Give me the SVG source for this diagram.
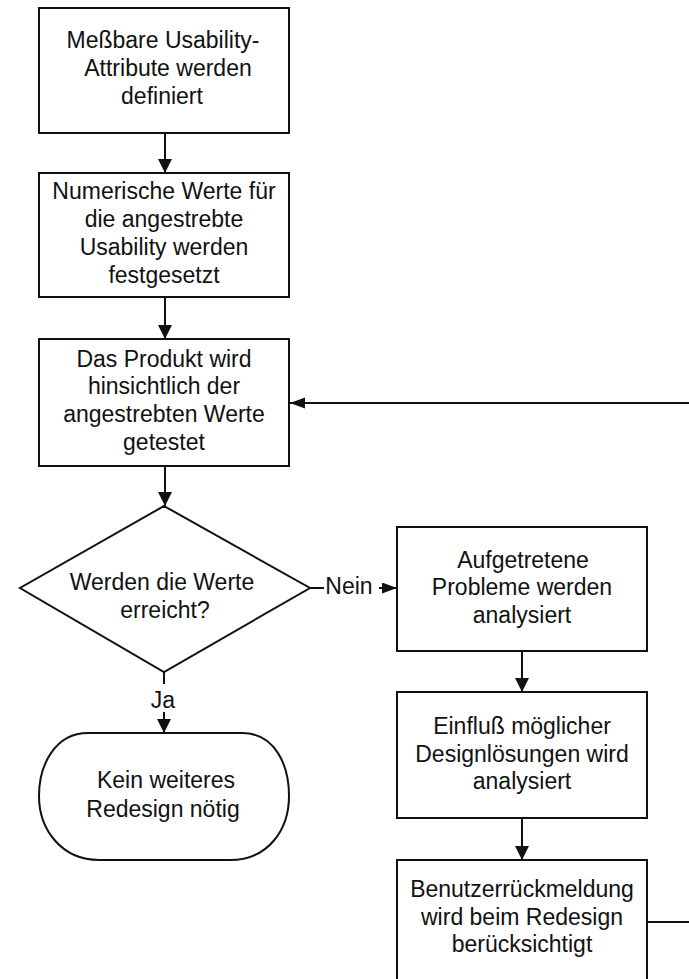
<svg xmlns="http://www.w3.org/2000/svg" width="689" height="979" viewBox="0 0 689 979">
<style>
.shape{fill:#fff;stroke:#111;stroke-width:2}
.conn{fill:none;stroke:#111;stroke-width:2}
text{font-family:"Liberation Sans",Arial,sans-serif;font-size:23px;fill:#111;text-anchor:middle}
</style>
<defs>
<marker id="ah" markerUnits="userSpaceOnUse" markerWidth="15" markerHeight="15" refX="14" refY="7" orient="auto">
<path d="M0,0 L14,7 L0,14 z" fill="#111"/>
</marker>
<marker id="ahs" markerUnits="userSpaceOnUse" markerWidth="16" markerHeight="12" refX="15" refY="5.5" orient="auto">
<path d="M0,0 L15,5.5 L0,11 z" fill="#111"/>
</marker>
</defs>
<rect width="689" height="979" fill="#fff"/>
<g id="connectors">
<line class="conn" x1="165" y1="133" x2="165" y2="173" marker-end="url(#ah)"/>
<line class="conn" x1="165" y1="297" x2="165" y2="339" marker-end="url(#ah)"/>
<line class="conn" x1="165" y1="466" x2="165" y2="506" marker-end="url(#ah)"/>
<line class="conn" x1="310" y1="588" x2="324" y2="588"/>
<line class="conn" x1="379" y1="588" x2="397" y2="588" marker-end="url(#ahs)"/>
<text x="349" y="594">Nein</text>
<line class="conn" x1="164" y1="672" x2="164" y2="684"/>
<text x="163" y="708">Ja</text>
<line class="conn" x1="164" y1="712" x2="164" y2="733" marker-end="url(#ah)"/>
<line class="conn" x1="522" y1="651" x2="522" y2="692" marker-end="url(#ah)"/>
<line class="conn" x1="522" y1="818" x2="522" y2="860" marker-end="url(#ah)"/>
<line class="conn" x1="647" y1="922" x2="689" y2="922"/>
<line class="conn" x1="689" y1="403" x2="290" y2="403" marker-end="url(#ahs)"/>
</g>
<g id="n1">
<rect class="shape" x="39" y="8" width="250" height="125"/>
<text x="163" y="48">Meßbare Usability-</text>
<text x="168" y="76">Attribute werden</text>
<text x="162" y="104">definiert</text>
</g>
<g id="n2">
<rect class="shape" x="39" y="173" width="250" height="124"/>
<text x="164" y="199">Numerische Werte für</text>
<text x="164" y="227">die angestrebte</text>
<text x="164" y="255">Usability werden</text>
<text x="164" y="283">festgesetzt</text>
</g>
<g id="n3">
<rect class="shape" x="39" y="339" width="250" height="127"/>
<text x="164" y="367">Das Produkt wird</text>
<text x="164" y="394">hinsichtlich der</text>
<text x="164" y="422">angestrebten Werte</text>
<text x="164" y="450">getestet</text>
</g>
<g id="n4">
<polygon class="shape" points="164,506 310,588 164,672 20,588"/>
<text x="162" y="590">Werden die Werte</text>
<text x="165" y="618">erreicht?</text>
</g>
<g id="n5">
<path class="shape" d="M88,733 H242 C275,733 289,765 289,796 C289,830 268,860 230,860 H99 C62,860 39,830 39,796 C39,765 55,733 88,733 Z"/>
<text x="166" y="788">Kein weiteres</text>
<text x="163" y="817">Redesign nötig</text>
</g>
<g id="n6">
<rect class="shape" x="397" y="527" width="250" height="124"/>
<text x="523" y="568">Aufgetretene</text>
<text x="522" y="595">Probleme werden</text>
<text x="522" y="623">analysiert</text>
</g>
<g id="n7">
<rect class="shape" x="397" y="692" width="250" height="126"/>
<text x="522" y="734">Einfluß möglicher</text>
<text x="522" y="762">Designlösungen wird</text>
<text x="522" y="789">analysiert</text>
</g>
<g id="n8">
<rect class="shape" x="397" y="860" width="250" height="130"/>
<text x="522" y="897">Benutzerrückmeldung</text>
<text x="522" y="925">wird beim Redesign</text>
<text x="522" y="952">berücksichtigt</text>
</g>
</svg>
